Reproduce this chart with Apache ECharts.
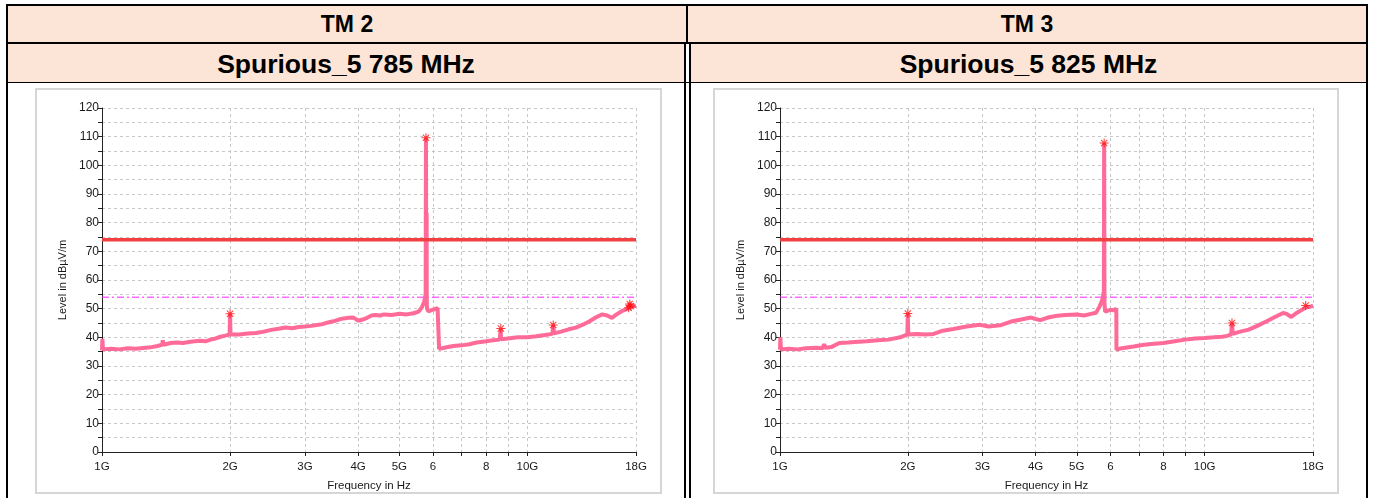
<!DOCTYPE html>
<html>
<head>
<meta charset="utf-8">
<script src="https://cdn.jsdelivr.net/npm/echarts@6/dist/echarts.min.js"></script>
<style>
  html, body { margin: 0; padding: 0; background: #fff; }
  body { width: 1375px; height: 498px; position: relative; overflow: hidden;
         font-family: "Liberation Sans", Arial, sans-serif; }
  .blk { position: absolute; background: #000; }
  .fill { position: absolute; background: #fce4d6; }
  .hd { position: absolute; text-align: center; font-weight: bold; color: #000; }
  .hd1 { font-size: 23px; line-height: 38px; }
  .hd2 { font-size: 26.5px; line-height: 40px; }
  .frame { position: absolute; border: 2px solid #d6d6d6; box-sizing: border-box; background: #fff; }
  .chart { position: absolute; }
</style>
</head>
<body>
  <!-- header fills -->
  <div class="fill" style="left:8px; top:6px; width:678px; height:36px;"></div>
  <div class="fill" style="left:688px; top:6px; width:678px; height:36px;"></div>
  <div class="fill" style="left:8px; top:44px; width:676px; height:38px;"></div>
  <div class="fill" style="left:691px; top:44px; width:675px; height:38px;"></div>

  <!-- table rules -->
  <div class="blk" style="left:6px; top:4px; width:1362px; height:2px;"></div>
  <div class="blk" style="left:6px; top:42px; width:1362px; height:2px;"></div>
  <div class="blk" style="left:6px; top:82px; width:1362px; height:1px;"></div>
  <div class="blk" style="left:6px; top:4px; width:2px; height:494px;"></div>
  <div class="blk" style="left:1366px; top:4px; width:2px; height:494px;"></div>
  <div class="blk" style="left:686px; top:4px; width:2px; height:40px;"></div>
  <div class="blk" style="left:684px; top:43px; width:2px; height:455px;"></div>
  <div class="blk" style="left:689px; top:43px; width:2px; height:455px;"></div>

  <!-- header texts -->
  <div class="hd hd1" style="left:8px; top:5px; width:678px;">TM 2</div>
  <div class="hd hd1" style="left:688px; top:5px; width:678px;">TM 3</div>
  <div class="hd hd2" style="left:8px; top:44px; width:676px;">Spurious_5 785 MHz</div>
  <div class="hd hd2" style="left:691px; top:44px; width:675px;">Spurious_5 825 MHz</div>

  <!-- chart frames -->
  <div class="frame" style="left:35px; top:88px; width:627px; height:406px;"></div>
  <div class="frame" style="left:713px; top:88px; width:626px; height:406px;"></div>
  <div id="chartA" class="chart" style="left:37px; top:90px; width:623px; height:402px;"></div>
  <div id="chartB" class="chart" style="left:715px; top:90px; width:622px; height:402px;"></div>

<script>
// Frequency axis ticks (GHz) and their labels
var freqTicks = [1, 2, 3, 4, 5, 6, 7, 8, 9, 10, 18];
var freqLabelValues = [1, 2, 3, 4, 5, 6, 8, 10, 18];
var freqLabelText = { 1: '1G', 2: '2G', 3: '3G', 4: '4G', 5: '5G', 6: '6', 8: '8', 10: '10G', 18: '18G' };

// Limit lines (dBµV/m)
var limitPeak = 74;
var limitAvg = 54;

// TM 2 — measured trace, frequency in GHz / level in dBµV/m
var tm2Freq = [1.0, 1.002, 1.005, 1.05, 1.10, 1.15, 1.20, 1.25, 1.30, 1.35, 1.385, 1.39, 1.395, 1.45, 1.50, 1.55,
  1.60, 1.65, 1.70, 1.75, 1.80, 1.85, 1.90, 1.95, 1.995, 2.0, 2.005, 2.10, 2.20, 2.30, 2.40, 2.50, 2.60, 2.70,
  2.80, 2.90, 3.00, 3.10, 3.20, 3.30, 3.40, 3.50, 3.60, 3.70, 3.80, 3.90, 4.00, 4.10, 4.20, 4.30, 4.40, 4.50,
  4.60, 4.80, 5.00, 5.20, 5.40, 5.55, 5.65, 5.72, 5.765, 5.775, 5.785, 5.795, 5.80, 5.81, 5.85, 5.95, 6.05,
  6.15, 6.195, 6.20, 6.30, 6.50, 6.70, 7.00, 7.30, 7.60, 8.00, 8.30, 8.60, 8.655, 8.66, 8.665, 9.00, 9.50,
  10.0, 10.5, 11.0, 11.45, 11.5, 11.55, 12.0, 12.5, 13.0, 13.5, 14.0, 14.5, 15.0, 15.4, 15.8, 16.2, 16.7,
  17.2, 17.35, 17.6, 18.0];
var tm2Level = [35.5, 39.5, 35.8, 36.0, 35.8, 36.2, 36.0, 36.3, 36.5, 37.0, 37.4, 39.0, 37.4, 38.0, 38.2, 38.0,
  38.4, 38.6, 38.8, 38.6, 39.2, 39.6, 40.2, 40.6, 41.0, 48.2, 41.0, 41.0, 41.3, 41.5, 42.0, 42.6, 43.0, 43.4,
  43.2, 43.6, 43.8, 44.0, 44.3, 44.6, 45.2, 45.6, 46.2, 46.6, 46.8, 46.9, 45.8, 46.2, 46.8, 47.6, 47.8, 47.6,
  48.0, 47.8, 48.2, 48.0, 48.4, 49.0, 50.5, 52.5, 55.0, 109.6, 52.0, 83.5, 52.0, 50.0, 49.0, 49.5, 49.8,
  50.2, 49.8, 36.0, 36.2, 36.6, 37.0, 37.2, 37.6, 38.2, 38.6, 39.0, 39.2, 39.3, 43.1, 39.3, 39.6, 40.0,
  40.0, 40.4, 40.8, 41.2, 44.3, 41.4, 42.0, 42.8, 43.4, 44.4, 45.6, 47.0, 48.0, 47.6, 46.8, 48.0, 49.2,
  50.0, 51.2, 50.6, 51.0];
var tm2PeakFreq = [2.0, 5.775, 8.66, 11.5, 17.3, 17.4, 17.5];
var tm2PeakLevel = [48.2, 109.6, 43.1, 44.3, 50.3, 51.6, 50.9];

// TM 3 — measured trace, frequency in GHz / level in dBµV/m
var tm3Freq = [1.0, 1.002, 1.005, 1.05, 1.10, 1.15, 1.22, 1.26, 1.27, 1.28, 1.32, 1.38, 1.45, 1.50, 1.60, 1.70,
  1.80, 1.92, 1.995, 2.0, 2.005, 2.10, 2.20, 2.30, 2.40, 2.56, 2.75, 2.95, 3.10, 3.30, 3.50, 3.70, 3.90, 4.00,
  4.10, 4.30, 4.50, 4.70, 5.00, 5.20, 5.40, 5.55, 5.66, 5.74, 5.79, 5.80, 5.81, 5.83, 5.90, 6.00, 6.10,
  6.195, 6.20, 6.30, 6.50, 6.80, 7.20, 7.60, 8.00, 8.50, 9.00, 9.50, 10.0, 10.5, 11.0, 11.3, 11.55, 11.6,
  11.65, 12.0, 12.7, 13.3, 14.0, 14.6, 15.3, 15.6, 16.0, 16.5, 17.0, 17.3, 17.8, 18.0];
var tm3Level = [35.7, 40.0, 35.8, 36.0, 35.8, 36.2, 36.4, 36.2, 37.6, 36.4, 36.6, 38.0, 38.2, 38.4, 38.6, 39.0,
  39.2, 40.0, 41.0, 48.3, 41.0, 41.2, 41.0, 41.2, 42.2, 42.9, 43.8, 44.4, 43.8, 44.2, 45.5, 46.2, 46.9, 46.4,
  46.0, 47.0, 47.5, 47.8, 48.0, 47.6, 48.2, 48.6, 50.8, 53.0, 56.0, 107.8, 52.0, 49.0, 49.2, 49.6, 49.4,
  50.0, 35.7, 36.0, 36.4, 36.8, 37.4, 37.8, 38.0, 38.6, 39.2, 39.6, 39.8, 40.0, 40.2, 40.5, 41.0, 45.0,
  41.2, 41.8, 42.7, 44.0, 45.6, 47.0, 48.5, 48.2, 47.1, 48.6, 49.7, 50.4, 50.8, 51.0];
var tm3PeakFreq = [2.0, 5.8, 11.6, 17.3];
var tm3PeakLevel = [48.3, 107.8, 45.0, 51.1];

// Asterisk-shaped marker for detected peaks
var asterisk = 'path://M-0.6,-5 L0.6,-5 L0.6,5 L-0.6,5 Z M-5,-0.6 L5,-0.6 L5,0.6 L-5,0.6 Z ' +
  'M-3.9,-3.1 L-3.1,-3.9 L3.9,3.1 L3.1,3.9 Z M3.1,-3.9 L3.9,-3.1 L-3.1,3.9 L-3.9,3.1 Z';

function zip(a, b) {
  var out = [];
  for (var i = 0; i < a.length; i++) out.push([a[i], b[i]]);
  return out;
}

function buildOption(freq, level, peakF, peakL) {
  var axisColor = '#222';
  var gridColor = '#c8c8c8';
  var textColor = '#1a1a1a';
  var fmin = freqTicks[0], fmax = freqTicks[freqTicks.length - 1];
  return {
    animation: false,
    grid: { left: 65, right: 24, top: 18, bottom: 40, outerBoundsMode: 'none', containLabel: false },
    xAxis: {
      type: 'log', logBase: 10, min: fmin, max: fmax,
      name: 'Frequency in Hz', nameLocation: 'middle', nameGap: 28,
      nameTextStyle: { fontFamily: 'Liberation Sans', fontSize: 11.5, color: textColor },
      axisLine: { lineStyle: { color: axisColor, width: 1 } },
      axisTick: { customValues: freqTicks, length: 4, lineStyle: { color: axisColor } },
      axisLabel: {
        customValues: freqLabelValues, margin: 9,
        fontFamily: 'Liberation Sans', fontSize: 11.5, color: textColor,
        formatter: function (v) {
          var k = Math.round(v);
          return freqLabelText[k] !== undefined ? freqLabelText[k] : '';
        }
      },
      splitLine: { show: true, lineStyle: { color: gridColor, type: [3, 3], width: 1 } },
      minorTick: { show: false }
    },
    yAxis: {
      type: 'value', min: 0, max: 120, interval: 5,
      name: 'Level in dBµV/m', nameLocation: 'middle', nameGap: 32, nameRotate: 90,
      nameTextStyle: { fontFamily: 'Liberation Sans', fontSize: 11, color: textColor },
      axisLine: { show: true, lineStyle: { color: axisColor, width: 1 } },
      axisTick: { show: true, length: 4, lineStyle: { color: axisColor } },
      axisLabel: {
        margin: 3, fontFamily: 'Liberation Sans', fontSize: 12, color: textColor,
        formatter: function (v) { return v % 10 === 0 ? String(v) : ''; }
      },
      splitLine: { show: true, lineStyle: { color: gridColor, type: [3, 3], width: 1 } }
    },
    series: [
      {
        name: 'avg limit', type: 'line', showSymbol: false, silent: true,
        data: [[fmin, limitAvg], [fmax, limitAvg]],
        lineStyle: { color: '#ff22ff', width: 1, type: [7, 3, 2, 3] }, z: 2
      },
      {
        name: 'trace', type: 'line', showSymbol: false, silent: true,
        data: zip(freq, level),
        lineStyle: { color: '#ff6b98', width: 4, join: 'bevel' }, z: 3
      },
      {
        name: 'peak limit', type: 'line', showSymbol: false, silent: true,
        data: [[fmin, limitPeak], [fmax, limitPeak]],
        lineStyle: { color: '#f24040', width: 3.5 }, z: 4
      },
      {
        name: 'peaks', type: 'scatter', silent: true,
        data: zip(peakF, peakL),
        symbol: asterisk, symbolSize: 9,
        itemStyle: { color: '#ff1010' }, z: 5
      }
    ]
  };
}

var chartA = echarts.init(document.getElementById('chartA'), null, { renderer: 'canvas' });
chartA.setOption(buildOption(tm2Freq, tm2Level, tm2PeakFreq, tm2PeakLevel));
var chartB = echarts.init(document.getElementById('chartB'), null, { renderer: 'canvas' });
chartB.setOption(buildOption(tm3Freq, tm3Level, tm3PeakFreq, tm3PeakLevel));
</script>
</body>
</html>
